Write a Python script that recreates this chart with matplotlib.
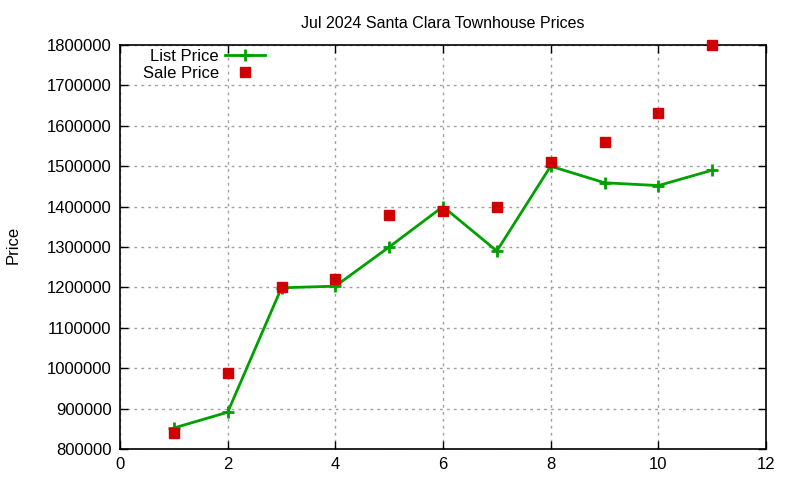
import matplotlib
matplotlib.use("Agg")
import matplotlib.pyplot as plt
from matplotlib.ticker import FixedLocator

plt.rcParams['font.family'] = ['Liberation Sans', 'DejaVu Sans']

# data
months = [1, 2, 3, 4, 5, 6, 7, 8, 9, 10, 11]
list_price = [852000, 891000, 1199000, 1203000, 1300000, 1400000, 1290000,
              1500000, 1459000, 1452000, 1490000]
sale_price = [840000, 988000, 1201000, 1220000, 1380000, 1390000, 1400000,
              1511000, 1561000, 1631000, 1800000]
x_ticks = [0, 2, 4, 6, 8, 10, 12]
y_ticks = list(range(800000, 1800001, 100000))

fig = plt.figure(figsize=(8, 4.8), dpi=100)
ax = fig.add_axes([0.15, 0.0646, 0.8075, 0.8417])

ax.plot(months, list_price, color='#00a000', lw=2, marker='+', ms=9, mew=2,
        label='List Price', clip_on=False, zorder=3)
ax.plot(months, sale_price, ls='none', color='#d00000', marker='s', ms=6.5,
        label='Sale Price', clip_on=False, zorder=4)

ax.set_xlim(0, 12)
ax.set_ylim(800000, 1800000)
ax.xaxis.set_major_locator(FixedLocator(x_ticks))
ax.yaxis.set_major_locator(FixedLocator(y_ticks))
ax.set_xticklabels([str(t) for t in x_ticks])
ax.set_yticklabels([str(t) for t in y_ticks])
ax.tick_params(direction='in', length=6, width=1, top=True, right=True,
               labelsize=12, pad=6)
ax.grid(True, color='#a0a0a0', ls=(0, (2, 3)), lw=1)
for s in ax.spines.values():
    s.set_linewidth(1.2)

ax.set_title('Jul 2024 Santa Clara Townhouse Prices', fontsize=11.5, pad=12)
fig.text(0.007, 0.49, 'Price', rotation=90, fontsize=12, va='center', ha='left')

leg = ax.legend(loc='upper left', bbox_to_anchor=(0.017, 1.02), frameon=False,
                markerfirst=False, fontsize=12, handlelength=2.4,
                handletextpad=0.4, labelspacing=0.12, borderaxespad=0.3)
for t in leg.get_texts():
    t.set_ha('right')
leg._legend_box.align = 'right'

fig.savefig('out.png', dpi=100)
